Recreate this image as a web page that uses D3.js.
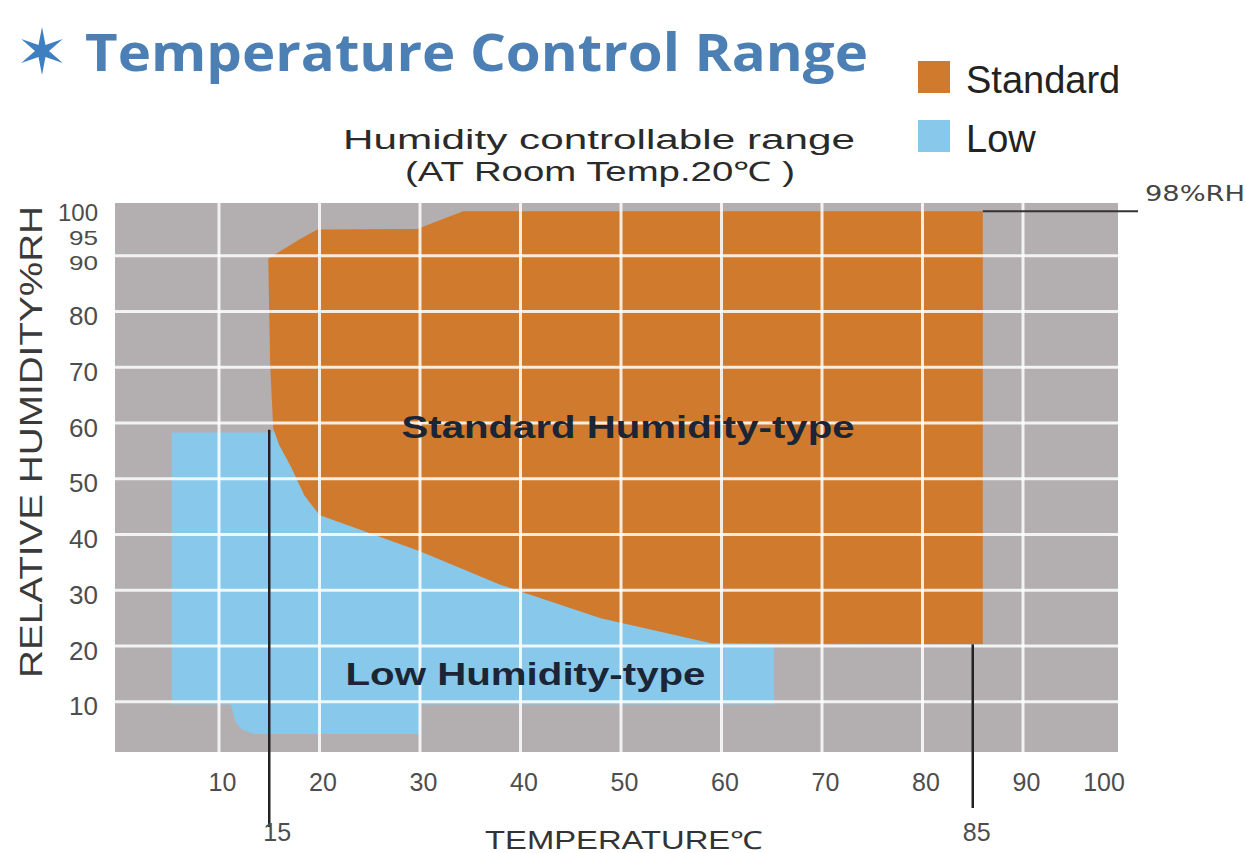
<!DOCTYPE html>
<meta charset="utf-8">
<html>
<head>
<title>Temperature Control Range</title>
<style>
  body { margin: 0; background: #fff; }
  svg text { font-family: "Liberation Sans", Arial, sans-serif; }
</style>
</head>
<body>
<script src="https://d3js.org/d3.v7.min.js"></script>
<svg width="1247" height="853"></svg>
<script>
// data
var tempTicks = [10, 20, 30, 40, 50, 60, 70, 80, 90, 100];
var rhTicks = [10, 20, 30, 40, 50, 60, 70, 80, 90, 95, 100];
var gridTemps = [10, 20, 30, 40, 50, 60, 70, 80, 90];
var gridRH = [10, 20, 30, 40, 50, 60, 70, 80, 90];

// standard humidity-type area outline (temp, %RH)
var standardT  = [14.9, 18, 19.8, 29.7, 34.3, 86, 86, 59, 48, 38, 30, 20, 18.5, 17.2, 16, 15.4, 15.1];
var standardRH = [89.5, 92.9, 94.7, 94.8, 98, 98, 20.3, 20.5, 25, 31, 37, 43.5, 47, 52, 56, 59, 70];

// low humidity-type area outline (temp, %RH)
var lowT  = [5.3, 15.6, 17.2, 18.5, 20, 30, 38, 48, 59, 65.2, 65.2, 30, 30, 13.5, 12.3, 11.6, 11.2, 5.3];
var lowRH = [58.3, 58.3, 52, 47, 43.5, 37, 31, 25, 20.5, 20.3, 9.5, 9.5, 4.2, 4.2, 5, 6.5, 9.5, 9.5];

var markerTemps = [15, 85];
var maxRH = 98;

var legendNames = ["Standard", "Low"];
var colors = { Standard: "#cf7a2d", Low: "#88c8ea" };

var svg = d3.select("svg");

var x = d3.scaleLinear().domain([0, 100]).range([118.5, 1123.5]);
var y = d3.scaleLinear().domain([0, 100]).range([757.5, 200]);

var plotLeft = 115, plotRight = 1118, plotTop = 203, plotBottom = 752;

// grey background
svg.append("rect")
    .attr("x", plotLeft).attr("y", plotTop)
    .attr("width", plotRight - plotLeft).attr("height", plotBottom - plotTop)
    .attr("fill", "#b3aeb0");

var area = d3.line().x(function(d) { return x(d[0]); }).y(function(d) { return y(d[1]); });

svg.append("path")
    .datum(d3.zip(lowT, lowRH))
    .attr("d", function(d) { return area(d) + "Z"; })
    .attr("fill", colors.Low);

svg.append("path")
    .datum(d3.zip(standardT, standardRH))
    .attr("d", function(d) { return area(d) + "Z"; })
    .attr("fill", colors.Standard);

// white grid
svg.append("g").selectAll("line").data(gridTemps).join("line")
    .attr("x1", function(d) { return x(d); }).attr("x2", function(d) { return x(d); })
    .attr("y1", plotTop).attr("y2", plotBottom)
    .attr("stroke", "#fff").attr("stroke-opacity", 0.85).attr("stroke-width", 3);

svg.append("g").selectAll("line").data(gridRH).join("line")
    .attr("x1", plotLeft).attr("x2", plotRight)
    .attr("y1", function(d) { return y(d); }).attr("y2", function(d) { return y(d); })
    .attr("stroke", "#fff").attr("stroke-opacity", 0.85).attr("stroke-width", 3);

// axes
var xAxis = svg.append("g")
    .attr("transform", "translate(3," + 772 + ")")
    .call(d3.axisBottom(x).tickValues(tempTicks).tickSize(0).tickPadding(0));
xAxis.select(".domain").remove();
xAxis.selectAll("text")
    .attr("font-size", 25).attr("fill", "#4d4d4d").attr("dy", "0.75em")
    .attr("dx", function(d) { return d === 100 ? -23 : 0; })
    .style("font-family", "'Liberation Sans', Arial, sans-serif");

var yAxis = svg.append("g")
    .attr("transform", "translate(98,0)")
    .call(d3.axisLeft(y).tickValues(rhTicks).tickSize(0).tickPadding(0));
yAxis.select(".domain").remove();
yAxis.selectAll("text")
    .attr("font-size", function(d) { return d === 100 ? 24 : d >= 90 ? 21 : 26; })
    .attr("fill", "#4d4d4d")
    .attr("dy", function(d) { return d === 100 ? 20 : d === 95 ? 17 : d === 90 ? 14 : 13; })
    .style("font-family", "'Liberation Sans', Arial, sans-serif");
// the squeezed 95 / 90 labels keep the same width as the others
yAxis.selectAll("text").filter(function(d) { return d === 95 || d === 90; })
    .attr("textLength", 29).attr("lengthAdjust", "spacingAndGlyphs");

// marker lines
svg.append("g").selectAll("line").data(markerTemps).join("line")
    .attr("x1", function(d) { return x(d); }).attr("x2", function(d) { return x(d); })
    .attr("y1", function(d) { return d === 15 ? y(58.8) : y(20.3); })
    .attr("y2", function(d) { return d === 15 ? 827 : 808; })
    .attr("stroke", "#222").attr("stroke-width", 2.5);

svg.append("g").selectAll("text").data(markerTemps).join("text")
    .attr("x", function(d) { return x(d) + (d === 15 ? 8 : 4); })
    .attr("y", 841)
    .attr("text-anchor", "middle")
    .attr("font-size", 25).attr("fill", "#4d4d4d")
    .text(function(d) { return d; });

svg.append("line")
    .attr("x1", x(86)).attr("x2", 1138)
    .attr("y1", y(maxRH)).attr("y2", y(maxRH))
    .attr("stroke", "#333").attr("stroke-width", 2);

svg.append("text")
    .attr("x", 1145).attr("y", 201)
    .attr("font-size", 21).attr("fill", "#444")
    .style("font-family", "'DejaVu Sans', sans-serif")
    .attr("textLength", 100).attr("lengthAdjust", "spacingAndGlyphs")
    .text(maxRH + "%RH");

// area labels
svg.append("text")
    .attr("x", x(50.7)).attr("y", 438)
    .attr("text-anchor", "middle")
    .attr("font-size", 31).attr("font-weight", "bold").attr("fill", "#1b2535")
    .attr("textLength", 453).attr("lengthAdjust", "spacingAndGlyphs")
    .text("Standard Humidity-type");

svg.append("text")
    .attr("x", x(40.5) - 180).attr("y", 685)
    .attr("font-size", 31).attr("font-weight", "bold").attr("fill", "#1b2535")
    .attr("textLength", 360).attr("lengthAdjust", "spacingAndGlyphs")
    .text("Low Humidity-type");

// axis titles
svg.append("text")
    .attr("transform", "translate(42,442) rotate(-90)")
    .attr("text-anchor", "middle")
    .attr("font-size", 31).attr("fill", "#3a3a3a")
    .attr("textLength", 472).attr("lengthAdjust", "spacingAndGlyphs")
    .text("RELATIVE HUMIDITY%RH");

svg.append("text")
    .attr("x", 485).attr("y", 849)
    .attr("font-size", 25).attr("fill", "#333")
    .attr("textLength", 278).attr("lengthAdjust", "spacingAndGlyphs")
    .text("TEMPERATURE℃");

// subtitle
svg.append("text")
    .attr("x", 343).attr("y", 149)
    .attr("font-size", 27).attr("fill", "#2a2a2a")
    .attr("textLength", 512).attr("lengthAdjust", "spacingAndGlyphs")
    .text("Humidity controllable range");

svg.append("text")
    .attr("x", 405).attr("y", 181)
    .attr("font-size", 27).attr("fill", "#2a2a2a")
    .attr("textLength", 390).attr("lengthAdjust", "spacingAndGlyphs")
    .text("(AT Room Temp.20℃ )");

// title with star
var star = [];
for (var i = 0; i < 12; i++) {
    var a = Math.PI / 6 * i, r = i % 2 === 0 ? 24 : 7;
    star.push([Math.sin(a) * r, -Math.cos(a) * r]);
}
svg.append("path")
    .attr("transform", "translate(42,51)")
    .attr("d", d3.line()(star) + "Z")
    .attr("fill", "#3f7fbf");

svg.append("text")
    .attr("x", 85).attr("y", 71)
    .attr("font-size", 52).attr("font-weight", "bold").attr("fill", "#4c7fb4")
    .style("font-family", "'Open Sans', sans-serif")
    .attr("textLength", 783).attr("lengthAdjust", "spacingAndGlyphs")
    .text("Temperature Control Range");

// legend
var legend = svg.append("g").selectAll("g").data(legendNames).join("g")
    .attr("transform", function(d, i) { return "translate(918," + (61 + i * 59) + ")"; });
legend.append("rect")
    .attr("width", 32).attr("height", 32)
    .attr("fill", function(d) { return colors[d]; });
legend.append("text")
    .attr("x", 48).attr("y", 32)
    .attr("font-size", 38).attr("fill", "#222")
    .text(function(d) { return d; });
</script>
</body>
</html>
